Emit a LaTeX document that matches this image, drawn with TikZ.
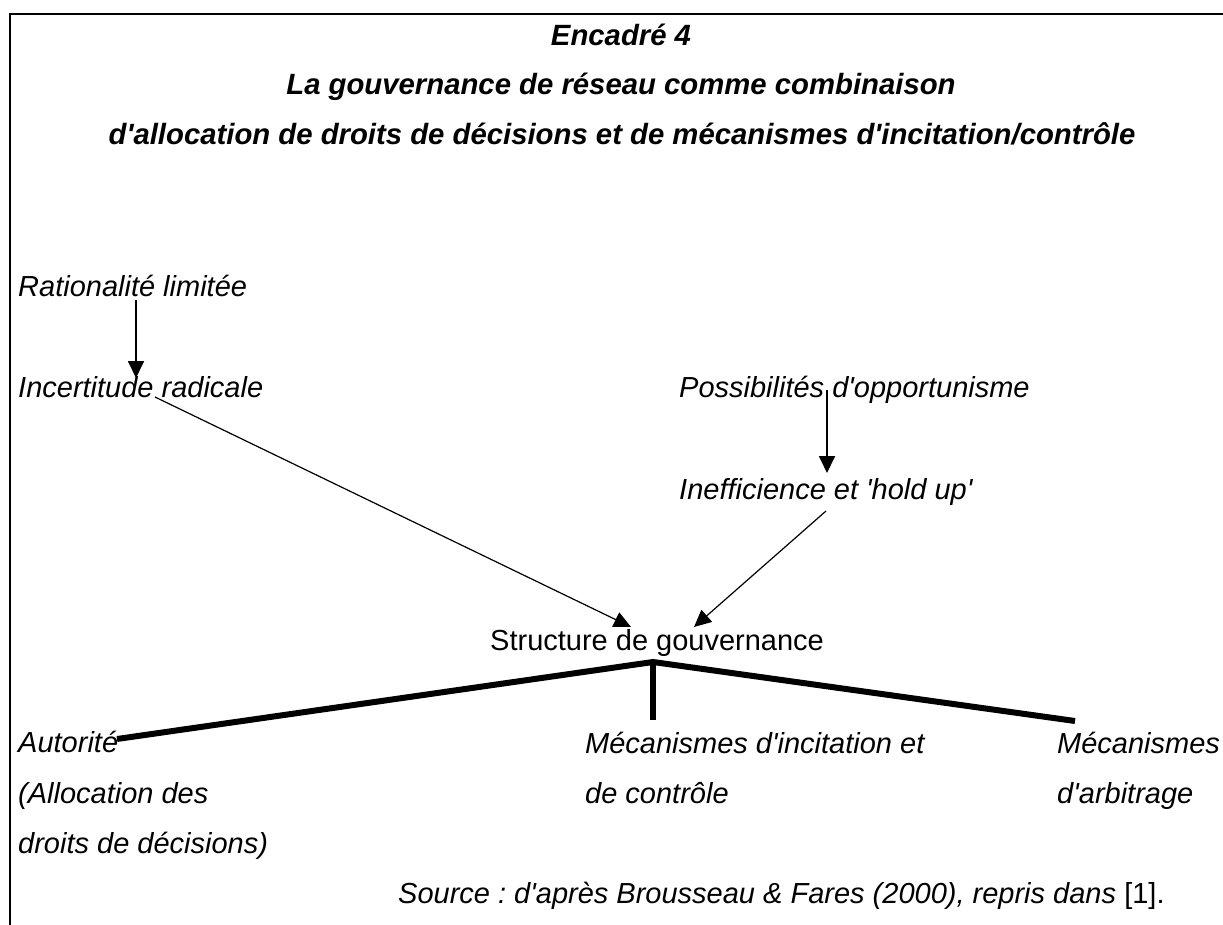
\documentclass[tikz,border=0pt]{standalone}
\usepackage{fontspec}
\setmainfont{Liberation Sans}[Ligatures=TeXOff]
\frenchspacing
\usetikzlibrary{calc}
\usetikzlibrary{arrows.meta}

\tikzset{
 txt/.style={anchor=base west, inner sep=0, font=\fontsize{29}{34}\selectfont\itshape},
 titre/.style={anchor=base, inner sep=0, font=\fontsize{29.3}{34}\selectfont\bfseries\itshape},
 fl/.style={line width=1.8, -{Triangle[length=17pt,width=16pt]}},
 branche/.style={line width=6},
}

\begin{document}
\begin{tikzpicture}[x=1pt, y=-1pt]
\useasboundingbox (0,0) rectangle (1223,925);
\draw[line width=2] (1223,14) -- (10,14) -- (10,925);
% titre
\node[titre] (t1) at (621,46) {Encadré 4};
\node[titre] (t2) at (621,95) {La gouvernance de réseau comme combinaison};
\node[titre] (t3) at (622,145) {d'allocation de droits de décisions et de mécanismes d'incitation/contrôle};
% causes
\node[txt] (rat) at (18,297) {Rationalité limitée};
\node[txt] (inc) at (18,397) {Incertitude radicale};
\node[txt] (pos) at (679,397) {Possibilités d'opportunisme};
\node[txt] (ine) at (679,499) {Inefficience et 'hold up'};
\node[anchor=base west, inner sep=0, font=\fontsize{29}{34}\selectfont] (sg) at (490,650) {Structure de gouvernance};
\coordinate (rat-b) at (136,300);
\coordinate (inc-h) at (136,378);
\coordinate (inc-b) at (155,397);
\coordinate (sg-g) at (631,627);
\coordinate (pos-b) at (827,390);
\coordinate (ine-h) at (827,473);
\coordinate (ine-b) at (826,511);
\coordinate (sg-d) at (694,627);
\draw[fl] (rat-b) -- (inc-h);
\draw[fl] (pos-b) -- (ine-h);
\draw[fl, line width=1.2] (inc-b) -- (sg-g);
\draw[fl, line width=1.2] (ine-b) -- (sg-d);
% branches
\coordinate (S) at (653,662);
\coordinate (aut-h) at (117,739);
\coordinate (inci-h) at (653,720);
\coordinate (arb-h) at (1075,721);
\draw[branche] (aut-h) -- (S) -- (arb-h);
\draw[branche] (S) -- (inci-h);
\node[txt] (aut1) at (18,752) {Autorité};
\node[txt] (aut2) at (18,803) {(Allocation des};
\node[txt] (aut3) at (18,853) {droits de décisions)};
\node[txt] (inci1) at (585,753) {Mécanismes d'incitation et};
\node[txt] (inci2) at (585,803) {de contrôle};
\node[txt] (arb1) at (1057,753) {Mécanismes};
\node[txt] (arb2) at (1057,803) {d'arbitrage};
\node[txt] (src) at (398,903) {Source : d'après Brousseau \& Fares (2000), repris dans \upshape[1].};
\end{tikzpicture}
\end{document}
